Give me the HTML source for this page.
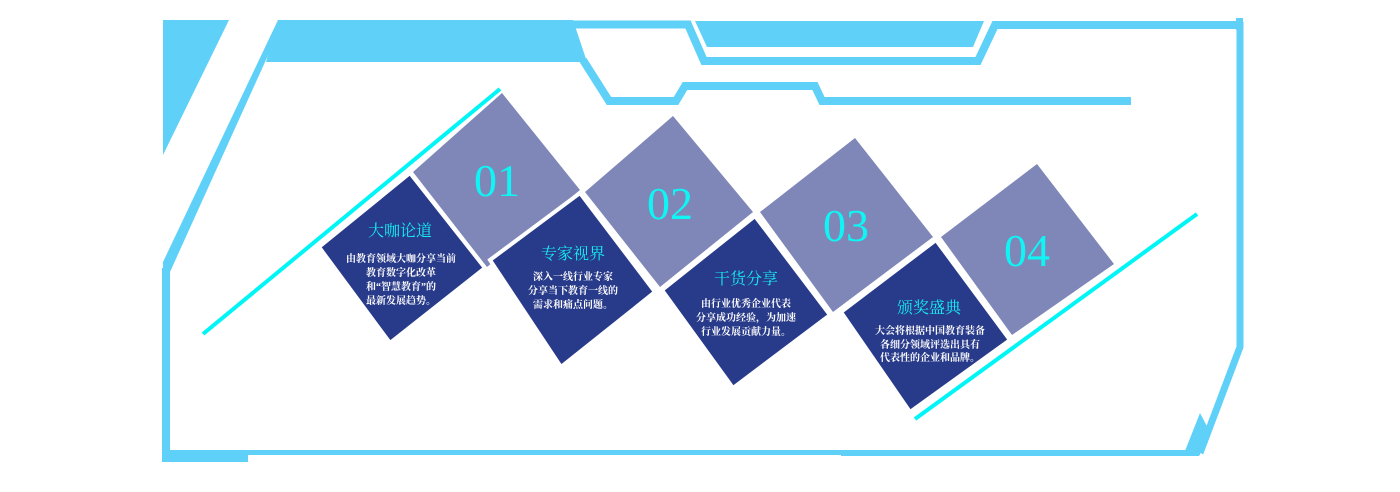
<!DOCTYPE html>
<html><head><meta charset="utf-8"><style>
html,body{margin:0;padding:0;background:#fff;}
svg{display:block;}
.t{font-family:"Liberation Serif","Noto Serif CJK SC",serif;font-size:16px;fill:#16eef2;text-anchor:middle;}
.b{font-family:"Liberation Serif","Noto Serif CJK SC",serif;font-size:10px;fill:#fff;text-anchor:middle;font-weight:bold;}
.n{font-family:"Liberation Serif",serif;font-size:46px;fill:#0ff5f5;text-anchor:middle;}
</style></head><body>
<svg width="1400" height="492" viewBox="0 0 1400 492" xmlns="http://www.w3.org/2000/svg">
<g fill="#5fd1f8" stroke="none">
<polygon points="163,20 229,20 163,155"/>
<polygon points="278,20 573,20 587,62 266,62"/>
<polygon points="695,21 984,21 973,47 707,47"/>
<rect x="162" y="450" width="86" height="12"/>
<rect x="162" y="268" width="8" height="194"/>
<rect x="248" y="450" width="952" height="5"/>
<rect x="841" y="453" width="356" height="3"/>
<polygon points="1200,413 1210,432 1199,456 1183,456"/>
<rect x="1236" y="18" width="7" height="12"/>
<polygon points="278,20 284,20 170,272 163,268 163,262"/>
</g>
<g fill="none" stroke="#5fd1f8" stroke-width="7" stroke-linejoin="miter">
<polyline points="1240,22 1240,347 1200,453"/>
<polyline points="573,24.5 688,24.5 704,61 978,61 995,25 1242,25" stroke-width="8"/>
<polyline points="583,60 609,101 676,101 685,86 815,86 822,101 1131,101" stroke-width="8"/>
</g>
<g stroke="#00f6f6" stroke-width="4">
<line x1="203" y1="334" x2="500" y2="89"/>
<line x1="915" y1="419" x2="1197" y2="214"/>
</g>
<g fill="#7e87b8">
<polygon points="502,93 580,190 487,267 413,172"/>
<polygon points="673,116 753,212 660,287 585,192"/>
<polygon points="855,138 933,237 833,312 760,212"/>
<polygon points="1037,164 1114,264 1012,335 941,237"/>
</g>
<g fill="#283a8a" stroke="#fff" stroke-width="4" stroke-linejoin="miter">
<polygon points="410,173 485,268 390,343 319,247"/>
<polygon points="580,193 655,292 561,367 490,260"/>
<polygon points="755,216 830,315 733,388 662,290"/>
<polygon points="936,240 1010,340 910,412 841,312"/>
</g>
<text class="n" x="497" y="196">01</text>
<text class="n" x="670" y="219">02</text>
<text class="n" x="846" y="241">03</text>
<text class="n" x="1027" y="266">04</text>
<text class="t" x="400" y="236">大咖论道</text>
<text class="b" x="401" y="262">由教育领域大咖分享当前</text>
<text class="b" x="401" y="276">教育数字化改革</text>
<text class="b" x="401" y="290">和“智慧教育”的</text>
<text class="b" x="401" y="304">最新发展趋势。</text>
<text class="t" x="573" y="259">专家视界</text>
<text class="b" x="573" y="280">深入一线行业专家</text>
<text class="b" x="573" y="294">分享当下教育一线的</text>
<text class="b" x="573" y="308">需求和痛点问题。</text>
<text class="t" x="746" y="284">干货分享</text>
<text class="b" x="746" y="307">由行业优秀企业代表</text>
<text class="b" x="746" y="321">分享成功经验，为加速</text>
<text class="b" x="746" y="335">行业发展贡献力量。</text>
<text class="t" x="929" y="313">颁奖盛典</text>
<text class="b" x="930" y="334">大会将根据中国教育装备</text>
<text class="b" x="930" y="348">各细分领域评选出具有</text>
<text class="b" x="930" y="361">代表性的企业和品牌。</text>
</svg>
</body></html>
